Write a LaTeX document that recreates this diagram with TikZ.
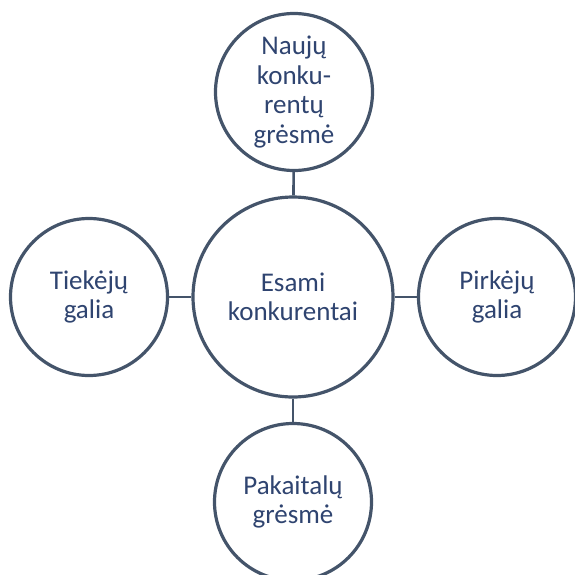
\documentclass[tikz,border=0pt]{standalone}
\usepackage{fontspec}
\setmainfont{Carlito}
\definecolor{ringcol}{HTML}{44546A}
\definecolor{txtcol}{HTML}{2F4470}
\begin{document}
\begin{tikzpicture}[x=1pt,y=1pt,
  ring/.style={circle,draw=ringcol,line width=3.2pt,fill=white,inner sep=0pt,
    text=txtcol,align=center,font=\fontsize{27}{29.5}\selectfont},
  small/.style={ring,minimum size=157pt},
  big/.style={ring,minimum size=200pt},
  link/.style={draw=ringcol,line width=2.6pt}]
\useasboundingbox (0,0) rectangle (575,-574);
\node[big]   (c) at (293,-297) {Esami\\konkurentai};
\node[small] (t) at (294,-92)  {Naujų\\konku-\\rentų\\grėsmė};
\node[small] (l) at (89,-297)  {Tiekėjų\\galia};
\node[small] (r) at (497,-297) {Pirkėjų\\galia};
\node[small] (b) at (293,-502) {Pakaitalų\\grėsmė};
\path[link] (c) -- (t);
\path[link] (c) -- (l);
\path[link] (c) -- (r);
\path[link] (c) -- (b);
\end{tikzpicture}
\end{document}
